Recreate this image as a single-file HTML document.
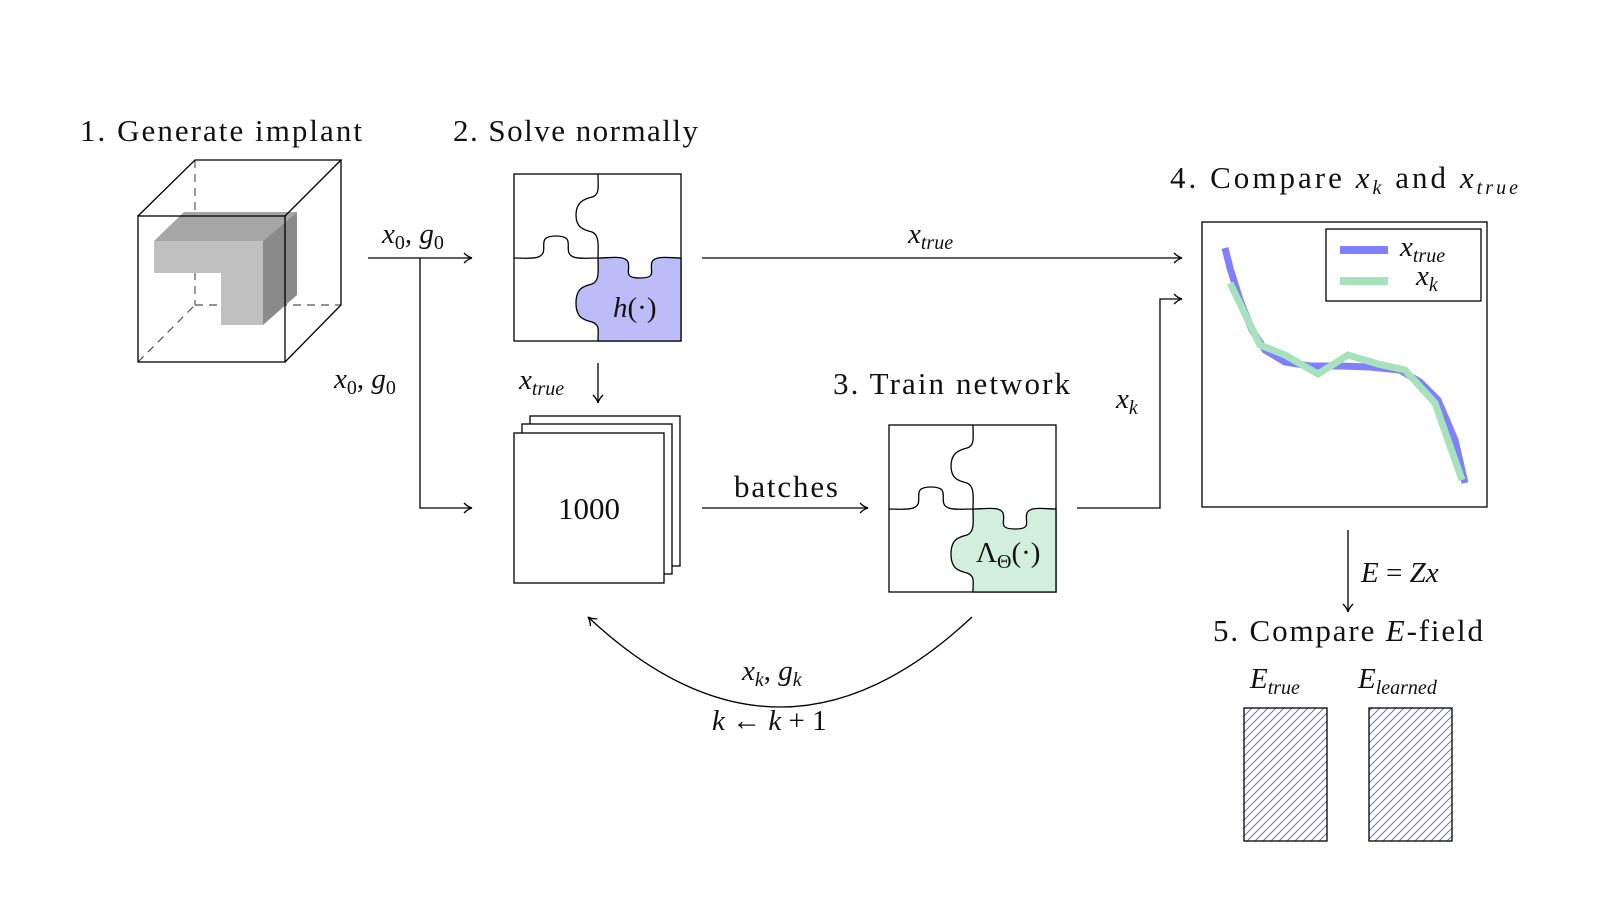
<!DOCTYPE html>
<html><head><meta charset="utf-8"><style>
body{margin:0;background:#fff}
svg{display:block}
text{font-family:"Liberation Serif",serif;fill:#111}
.t{font-size:31px}
.m{font-size:29px;font-style:italic}
.s{font-size:20px;font-style:italic}
.u{font-style:normal}
</style></head><body>
<svg width="1598" height="902" viewBox="0 0 1598 902" xmlns="http://www.w3.org/2000/svg">
<defs>
<marker id="ar" markerWidth="12" markerHeight="12" refX="10" refY="6" orient="auto" markerUnits="userSpaceOnUse">
<path d="M2,1 Q6,5 10,6 Q6,7 2,11" fill="none" stroke="#000" stroke-width="1.3"/>
</marker>
<pattern id="hat" width="8" height="8" patternUnits="userSpaceOnUse">
<path d="M-2,2 L2,-2 M0,8 L8,0 M6,10 L10,6" stroke="#5555ee" stroke-width="0.9"/>
</pattern>
<g id="puz">
<rect x="0" y="0" width="167" height="167" fill="none" stroke="#000" stroke-width="1.3"/>
<path d="M84,84 C96,84 111,81 114,88 C117,96 108,104 126,104 C144,104 135,96 138,88 C141,81 156,84 167,84 L167,167 L84,167 C84,156 86,151 78,148 C70,146 62,144 62,129 C62,114 70,112 78,110 C86,107 84,96 84,84 Z" fill="var(--c)" stroke="#000" stroke-width="1.3"/>
<path d="M84,0 C84,12 86,21 78,23 C70,25 62,28 62,41 C62,54 70,56 78,58 C86,61 84,74 84,84 M0,84 C12,84 26,86 29,79 C32,72 24,62 42,62 C60,62 52,72 55,79 C58,86 71,84 84,84" fill="none" stroke="#000" stroke-width="1.3"/>
</g>
</defs>

<!-- titles -->
<text class="t" x="80" y="141" textLength="282" lengthAdjust="spacing">1.  Generate implant</text>
<text class="t" x="453" y="141" textLength="245" lengthAdjust="spacing">2.  Solve normally</text>
<text class="t" x="833" y="394" textLength="237" lengthAdjust="spacing">3.  Train network</text>
<text class="t" x="1170" y="188" textLength="348" lengthAdjust="spacing">4.  Compare <tspan font-style="italic">x</tspan><tspan class="s" dy="6">k</tspan><tspan dy="-6"> and </tspan><tspan font-style="italic">x</tspan><tspan class="s" dy="6">true</tspan></text>
<text class="t" x="1213" y="641" textLength="270" lengthAdjust="spacing">5.  Compare <tspan font-style="italic">E</tspan>-field</text>

<!-- cube -->
<g stroke="#555" stroke-width="1.2" stroke-dasharray="8,6" fill="none">
<line x1="195" y1="160" x2="195" y2="305"/>
<line x1="195" y1="305" x2="341" y2="305"/>
<line x1="138" y1="362" x2="195" y2="305"/>
</g>
<polygon points="154,241 184,212 297,212 263,241" fill="#a6a6a6"/>
<polygon points="263,241 297,212 297,295 263,325" fill="#8a8a8a"/>
<polygon points="154,241 263,241 263,325 221,325 221,273 154,273" fill="#c0c0c0"/>
<g stroke="#000" stroke-width="1.3" fill="none">
<rect x="138" y="216" width="147" height="146"/>
<polyline points="138,216 195,160 341,160 285,216"/>
<polyline points="341,160 341,305 285,362"/>
</g>

<!-- puzzles -->
<use href="#puz" x="514" y="174" style="--c:#bcbcf9"/>
<text class="m" x="613" y="317">h<tspan class="u" style="font-style:normal">(·)</tspan></text>
<use href="#puz" x="889" y="425" style="--c:#d2eedf"/>
<text class="m" x="976" y="562" style="font-style:normal">Λ<tspan class="s" dy="6" style="font-style:normal">Θ</tspan><tspan dy="-6">(·)</tspan></text>

<!-- stack -->
<g stroke="#000" stroke-width="1.3" fill="#fff">
<rect x="530" y="416" width="150" height="150"/>
<rect x="522" y="424" width="150" height="150"/>
<rect x="514" y="433" width="150" height="150"/>
</g>
<text class="t" x="589" y="519" text-anchor="middle">1000</text>

<!-- arrows -->
<g stroke="#000" stroke-width="1.3" fill="none" marker-end="url(#ar)">
<line x1="368" y1="258" x2="472" y2="258"/>
<polyline points="420,258 420,508 472,508"/>
<line x1="702" y1="258" x2="1182" y2="258"/>
<line x1="598" y1="363" x2="598" y2="403"/>
<line x1="702" y1="508" x2="868" y2="508"/>
<polyline points="1077,508 1160,508 1160,299 1182,299"/>
<line x1="1348" y1="530" x2="1348" y2="612"/>
<path d="M972,617 Q780,797 588,617"/>
</g>
<text class="m" x="382" y="243">x<tspan class="s" dy="6" style="font-style:normal">0</tspan><tspan dy="-6" style="font-style:normal">, </tspan><tspan>g</tspan><tspan class="s" dy="6" style="font-style:normal">0</tspan></text>
<text class="m" x="334" y="388">x<tspan class="s" dy="6" style="font-style:normal">0</tspan><tspan dy="-6" style="font-style:normal">, </tspan><tspan>g</tspan><tspan class="s" dy="6" style="font-style:normal">0</tspan></text>
<text class="m" x="908" y="243">x<tspan class="s" dy="6">true</tspan></text>
<text class="m" x="519" y="389">x<tspan class="s" dy="6">true</tspan></text>
<text class="t" x="786" y="497" text-anchor="middle" textLength="104" lengthAdjust="spacing">batches</text>
<text class="m" x="1116" y="408">x<tspan class="s" dy="6">k</tspan></text>
<text class="m" x="1361" y="582">E <tspan style="font-style:normal">=</tspan> Zx</text>
<text class="m" x="742" y="680">x<tspan class="s" dy="6">k</tspan><tspan dy="-6" style="font-style:normal">, </tspan><tspan>g</tspan><tspan class="s" dy="6">k</tspan></text>
<text class="m" x="712" y="730">k <tspan style="font-style:normal">←</tspan> k <tspan style="font-style:normal">+ 1</tspan></text>

<!-- plot -->
<rect x="1202" y="222" width="285" height="285" fill="none" stroke="#000" stroke-width="1.3"/>
<polyline points="1225,248 1230,268 1240,300 1252,330 1265,350 1285,362 1310,366 1340,366 1370,367 1400,370 1420,382 1438,400 1455,440 1465,483" fill="none" stroke="#8080fb" stroke-width="7"/>
<polyline points="1230,283 1260,345 1285,355 1318,374 1348,355 1378,364 1405,370 1435,403 1462,480" fill="none" stroke="#a6e3bd" stroke-width="7"/>
<rect x="1326" y="229" width="155" height="72" fill="#fff" stroke="#000" stroke-width="1.3"/>
<line x1="1340" y1="250" x2="1388" y2="250" stroke="#8080fb" stroke-width="8"/>
<line x1="1340" y1="281" x2="1388" y2="281" stroke="#a6e3bd" stroke-width="8"/>
<text class="m" x="1400" y="256">x<tspan class="s" dy="6">true</tspan></text>
<text class="m" x="1416" y="285">x<tspan class="s" dy="6">k</tspan></text>

<!-- E fields -->
<text class="m" x="1250" y="688">E<tspan class="s" dy="6">true</tspan></text>
<text class="m" x="1358" y="688">E<tspan class="s" dy="6">learned</tspan></text>
<rect x="1244" y="708" width="83" height="133" fill="url(#hat)" stroke="#000" stroke-width="1.3"/>
<rect x="1369" y="708" width="83" height="133" fill="url(#hat)" stroke="#000" stroke-width="1.3"/>
</svg>
</body></html>
